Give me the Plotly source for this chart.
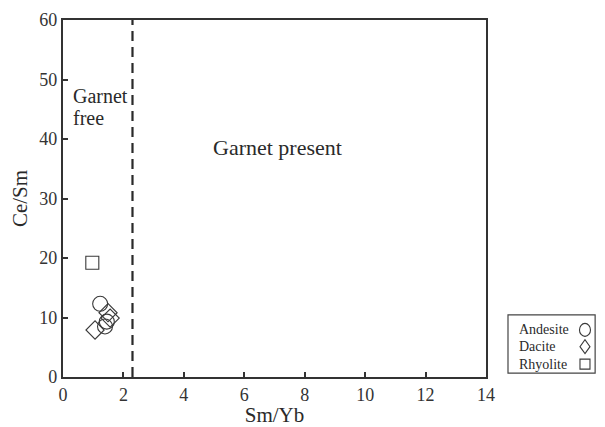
import plotly.graph_objects as go

# Sm/Yb vs Ce/Sm for the volcanic suite
andesite_smyb = [1.23, 1.45, 1.39]
andesite_cesm = [12.3, 9.3, 8.5]
dacite_smyb = [1.06, 1.49, 1.56]
dacite_cesm = [7.9, 10.8, 9.9]
rhyolite_smyb = [0.97]
rhyolite_cesm = [19.2]

garnet_boundary = 2.3
x_ticks = [0, 2, 4, 6, 8, 10, 12, 14]
y_ticks = [0, 10, 20, 30, 40, 50, 60]

series = [
    ("Andesite", andesite_smyb, andesite_cesm, "circle-open", 15),
    ("Dacite", dacite_smyb, dacite_cesm, "diamond-open", 14),
    ("Rhyolite", rhyolite_smyb, rhyolite_cesm, "square-open", 13),
]

FONT = "Liberation Serif, Times New Roman, serif"
INK = "#2a2a2a"
MARK = "#3a3a3a"
fig = go.Figure()

for name, xs, ys, sym, size in series:
    fig.add_trace(go.Scatter(
        x=xs, y=ys, mode="markers", name=name, showlegend=False,
        marker=dict(symbol=sym, size=size, color=MARK,
                    line=dict(width=1.1, color=MARK)),
    ))

# Hand-drawn key outside the plot area: labels left, glyphs right
key_x0, key_x1 = 1.052, 1.258
key_y0, key_y1 = 0.011, 0.174
key_rows = [0.132, 0.085, 0.036]
label_x = 1.073
glyph_x = 1.234

fig.add_shape(type="rect", xref="paper", yref="paper",
              x0=key_x0, x1=key_x1, y0=key_y0, y1=key_y1,
              line=dict(color="#444444", width=1.2))

glyph_paths = {
    "circle-open": None,
    "diamond-open": "M 0 -7 L 5 0 L 0 7 L -5 0 Z",
    "square-open": "M -5 -5 L 5 -5 L 5 5 L -5 5 Z",
}
for (name, _, _, sym, _), yy in zip(series, key_rows):
    fig.add_annotation(x=label_x, y=yy, xref="paper", yref="paper",
                       text=name, showarrow=False, xanchor="left",
                       yanchor="middle",
                       font=dict(family=FONT, size=14, color=INK))
    common = dict(xref="paper", yref="paper", xsizemode="pixel",
                  ysizemode="pixel", xanchor=glyph_x, yanchor=yy,
                  line=dict(color=MARK, width=1.1))
    if glyph_paths[sym] is None:
        fig.add_shape(type="circle", x0=-5.5, x1=5.5, y0=-6.5, y1=6.5,
                      **common)
    else:
        fig.add_shape(type="path", path=glyph_paths[sym], **common)

fig.add_shape(type="line", xref="x", yref="y domain",
              x0=garnet_boundary, x1=garnet_boundary, y0=0, y1=1,
              line=dict(color=INK, width=2.2, dash="10px,6px"))

fig.add_annotation(x=0.27, y=47.3, xref="x", yref="y", text="Garnet",
                   showarrow=False, xanchor="left", yanchor="middle",
                   font=dict(family=FONT, size=20, color=INK))
fig.add_annotation(x=0.27, y=43.6, xref="x", yref="y", text="free",
                   showarrow=False, xanchor="left", yanchor="middle",
                   font=dict(family=FONT, size=20, color=INK))
fig.add_annotation(x=7.1, y=38.5, xref="x", yref="y", text="Garnet present",
                   showarrow=False, yanchor="middle",
                   font=dict(family=FONT, size=22, color=INK))

axis_common = dict(showline=True, linewidth=2.2, linecolor="#333333",
                   mirror=True, ticks="inside", ticklen=5, tickwidth=1.5,
                   tickcolor="#333333", showgrid=False, zeroline=False,
                   automargin=False,
                   tickfont=dict(family=FONT, size=18, color="#333333"))

fig.update_layout(
    width=605, height=427,
    margin=dict(l=63, r=119, t=20, b=50),
    paper_bgcolor="white", plot_bgcolor="white",
    xaxis=dict(range=[0, 14], tickvals=x_ticks,
               title=dict(text="Sm/Yb", standoff=9,
                          font=dict(family=FONT, size=21, color=INK)),
               **axis_common),
    yaxis=dict(range=[0, 60], tickvals=y_ticks,
               title=dict(text="Ce/Sm", standoff=6,
                          font=dict(family=FONT, size=21, color=INK)),
               **axis_common),
)

fig.write_html("out.html")
